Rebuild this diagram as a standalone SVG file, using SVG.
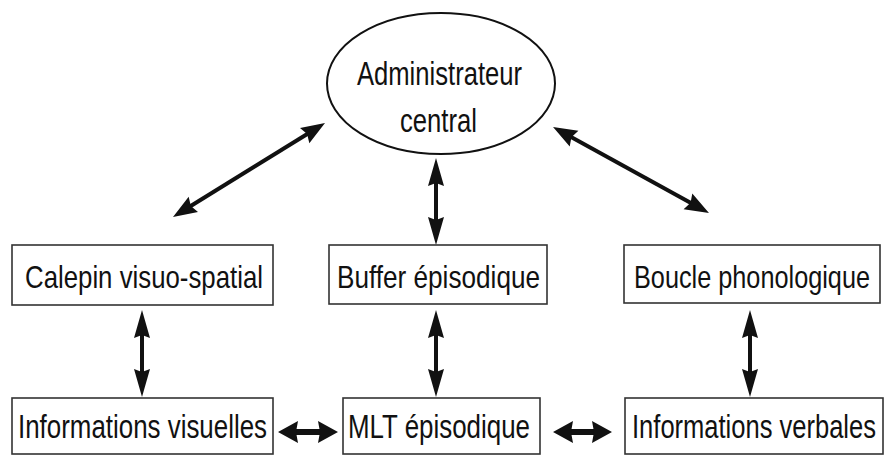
<svg xmlns="http://www.w3.org/2000/svg" width="886" height="458" viewBox="0 0 886 458">
<style>
.box{fill:#fff;stroke:#333;stroke-width:1.6}
.ell{fill:#fff;stroke:#111;stroke-width:2}
.t{font-family:"Liberation Sans",Arial,sans-serif;fill:#111;text-anchor:middle}
.t1{font-size:32px}
.t2{font-size:34px}
.a{stroke:#111;fill:none}
.av{stroke-width:4;marker-start:url(#hv);marker-end:url(#hv)}
.ad{stroke-width:4;marker-start:url(#hd);marker-end:url(#hd)}
.ah{stroke-width:6;marker-start:url(#hh);marker-end:url(#hh)}
</style>
<defs>
<marker id="hv" viewBox="0 -10 30 20" markerWidth="30" markerHeight="20" refX="6" refY="0" markerUnits="userSpaceOnUse" orient="auto-start-reverse"><path d="M0,-8 L28,0 L0,8 L3,0 z" fill="#111"/></marker>
<marker id="hd" viewBox="0 -10 26 20" markerWidth="26" markerHeight="20" refX="6" refY="0" markerUnits="userSpaceOnUse" orient="auto-start-reverse"><path d="M0,-9 L24,0 L0,9 L3,0 z" fill="#111"/></marker>
<marker id="hh" viewBox="0 -12 22 24" markerWidth="22" markerHeight="24" refX="5" refY="0" markerUnits="userSpaceOnUse" orient="auto-start-reverse"><path d="M0,-11 L20,0 L0,11 L2,0 z" fill="#111"/></marker>
</defs>
<rect width="886" height="458" fill="#fff"/>
<g id="connectors">
<line class="a ad" x1="188.3" y1="207.5" x2="309.7" y2="132.5"/>
<line class="a ad" x1="568.8" y1="135.7" x2="693.2" y2="204.3"/>
<line class="a av" x1="436" y1="180" x2="436" y2="223"/>
<line class="a av" x1="142" y1="332" x2="142" y2="375"/>
<line class="a av" x1="436" y1="332" x2="436" y2="375"/>
<line class="a av" x1="750" y1="332" x2="750" y2="375"/>
<line class="a ah" x1="293" y1="432" x2="323" y2="432"/>
<line class="a ah" x1="568" y1="432" x2="597" y2="432"/>
</g>
<g id="administrateur">
<ellipse class="ell" cx="441" cy="83.5" rx="114" ry="70.5"/>
<text class="t t2" x="439.5" y="85" textLength="165" lengthAdjust="spacingAndGlyphs">Administrateur</text>
<text class="t t2" x="438.5" y="132" textLength="77" lengthAdjust="spacingAndGlyphs">central</text>
</g>
<g id="calepin">
<rect class="box" x="12" y="245" width="261" height="60"/>
<text class="t t1" x="144" y="288" textLength="238" lengthAdjust="spacingAndGlyphs">Calepin visuo-spatial</text>
</g>
<g id="buffer">
<rect class="box" x="329" y="245" width="218" height="59"/>
<text class="t t1" x="438.5" y="288" textLength="203" lengthAdjust="spacingAndGlyphs">Buffer épisodique</text>
</g>
<g id="boucle">
<rect class="box" x="624" y="245" width="256" height="58"/>
<text class="t t1" x="752" y="288" textLength="236" lengthAdjust="spacingAndGlyphs">Boucle phonologique</text>
</g>
<g id="infovisuelles">
<rect class="box" x="12" y="398" width="261" height="56"/>
<text class="t t2" x="142.5" y="438" textLength="249" lengthAdjust="spacingAndGlyphs">Informations visuelles</text>
</g>
<g id="mlt">
<rect class="box" x="343" y="398" width="197" height="56"/>
<text class="t t2" x="439" y="438" textLength="182" lengthAdjust="spacingAndGlyphs">MLT épisodique</text>
</g>
<g id="infoverbales">
<rect class="box" x="625" y="398" width="258" height="56"/>
<text class="t t2" x="754" y="438" textLength="244" lengthAdjust="spacingAndGlyphs">Informations verbales</text>
</g>
</svg>
